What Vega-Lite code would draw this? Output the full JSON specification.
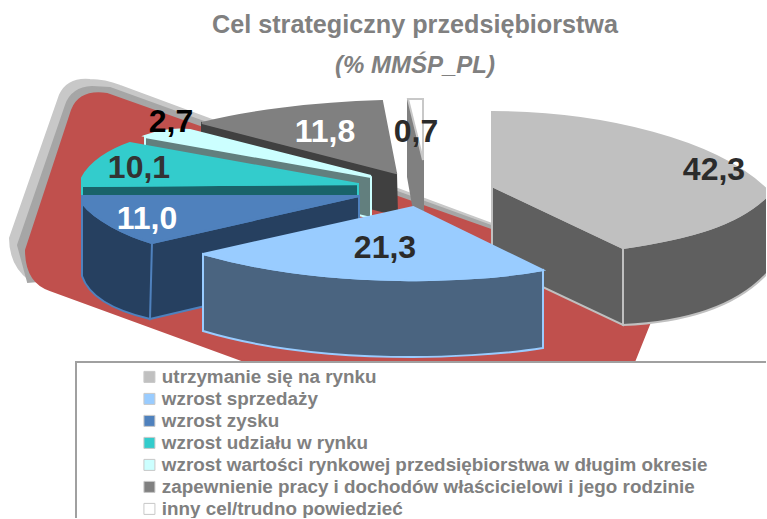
{
"$schema":"https://vega.github.io/schema/vega-lite/v6.json",
"width":766,"height":518,"autosize":{"type":"none"},"padding":0,"background":"white",
"config":{"view":{"stroke":null}},
"title":{"text":"Cel strategiczny przedsiębiorstwa","subtitle":"(% MMŚP_PL)","font":"Liberation Sans","fontSize":25.2,"fontWeight":"bold","color":"#808080","subtitleFont":"Liberation Sans","subtitleFontSize":24,"subtitleFontWeight":"bold","subtitleFontStyle":"italic","subtitleColor":"#808080","subtitlePadding":16,"anchor":"middle","dx":32,"offset":-78},
"datasets":{"kolowy":[
{"cel":"zapewnienie pracy i dochodów właścicielowi i jego rodzinie","udzial":11.8,"etykieta":"11,8"},
{"cel":"inny cel/trudno powiedzieć","udzial":0.7,"etykieta":"0,7"},
{"cel":"wzrost wartości rynkowej przedsiębiorstwa w długim okresie","udzial":2.7,"etykieta":"2,7"},
{"cel":"wzrost udziału w rynku","udzial":10.1,"etykieta":"10,1"},
{"cel":"wzrost zysku","udzial":11.0,"etykieta":"11,0"},
{"cel":"utrzymanie się na rynku","udzial":42.3,"etykieta":"42,3"},
{"cel":"wzrost sprzedaży","udzial":21.3,"etykieta":"21,3"}
],"tlo":[{"czesc":"a"},{"czesc":"b"},{"czesc":"c"},{"czesc":"d"}]},
"layer":[
{"data":{"name":"tlo"},"mark":{"type":"point","filled":true,"size":4,"opacity":1},
"encoding":{
"shape":{"field":"czesc","type":"nominal","legend":null,"scale":{"domain":["a","b","c","d"],"range":[
"M-373 -21 L-323 -164 Q-315 -181 -293 -179 Q-278 -179 -263 -173 L112 -34 L108 -19 L-353 21 Q-373 6 -373 -21 Z",
"M-365 -14 L-317 -154 Q-311 -171 -291 -172 L-273 -171 L108 -33 L108 -19 L-355 23 Z",
"M-357 -9 L-311 -149 Q-303 -169 -276 -165 L108 -29 L267 31 L267 63 L251 103 L-136 103 L-333 31 Q-357 23 -357 -9 Z",
"M-307 103 L417 103 L417 271 L-307 271 Z"]}},
"color":{"field":"czesc","type":"nominal","legend":null,"scale":{"domain":["a","b","c","d"],"range":["#c8c8c8","#a6a6a6","#c0504d","#ffffff"]}},
"stroke":{"field":"czesc","type":"nominal","legend":null,"scale":{"domain":["a","b","c","d"],"range":["#c8c8c8","#a6a6a6","#c0504d","#a0a0a0"]}}
}},
{"data":{"name":"kolowy"},"mark":{"type":"point","filled":true,"size":4,"opacity":1},
"encoding":{
"shape":{"field":"cel","type":"nominal","legend":null,"scale":{"domain":["utrzymanie się na rynku","wzrost sprzedaży","wzrost zysku","wzrost udziału w rynku","wzrost wartości rynkowej przedsiębiorstwa w długim okresie","zapewnienie pracy i dochodów właścicielowi i jego rodzinie","inny cel/trudno powiedzieć"],"range":[
"M109 -73 L240 -11 L240 66 L109 4 Z M240 -11 C307 -21 357 -34 387 -66 L387 11 C357 46 307 63 240 66 Z",
"M-180 -5 C-123 11 -53 20 17 21 C57 22 117 19 160 11 L160 89 C117 96 57 98 30 98 C-53 98 -123 89 -180 72 Z",
"M-231 -16 L-24 -63 L-24 11 L-233 60 Z M-301 -56 C-288 -39 -258 -24 -231 -16 L-233 60 C-263 53 -293 41 -301 17 Z",
"M-301 -73 L-25 -75 L-25 -9 L-301 3 Z",
"M-238 -122 L-12 -82 L-12 -41 L-238 -94 Z",
"M-181 -136 L13 -86 L14 -44 L-181 -94 Z",
"M25 -160 L40 -99 L40 -49 L30 -54 L25 -82 Z"]}},
"color":{"field":"cel","type":"nominal","legend":null,"scale":{"domain":["utrzymanie się na rynku","wzrost sprzedaży","wzrost zysku","wzrost udziału w rynku","wzrost wartości rynkowej przedsiębiorstwa w długim okresie","zapewnienie pracy i dochodów właścicielowi i jego rodzinie","inny cel/trudno powiedzieć"],"range":["#5f5f5f","#4a6480","#264060","#19636a","#627f7e","#404040","#808080"]}},
"stroke":{"field":"cel","type":"nominal","legend":null,"scale":{"domain":["utrzymanie się na rynku","wzrost sprzedaży","wzrost zysku","wzrost udziału w rynku","wzrost wartości rynkowej przedsiębiorstwa w długim okresie","zapewnienie pracy i dochodów właścicielowi i jego rodzinie","inny cel/trudno powiedzieć"],"range":["#c0c0c0","#99ccff","#4f81bd","#33cccc","#ccffff","#404040","#808080"]}}
}},
{"data":{"name":"kolowy"},"mark":{"type":"point","filled":true,"size":4,"opacity":1},
"encoding":{
"shape":{"field":"cel","type":"nominal","legend":null,"scale":{"domain":["utrzymanie się na rynku","wzrost sprzedaży","wzrost zysku","wzrost udziału w rynku","wzrost wartości rynkowej przedsiębiorstwa w długim okresie","zapewnienie pracy i dochodów właścicielowi i jego rodzinie","inny cel/trudno powiedzieć"],"range":[
"M109 -147 C217 -147 337 -119 387 -66 C357 -34 307 -21 240 -11 L109 -73 Z",
"M30 -52 L160 11 C117 19 57 22 17 21 C-53 20 -123 11 -180 -5 Z",
"M-24 -63 L-301 -63 L-301 -56 C-288 -39 -258 -24 -231 -16 Z",
"M-25 -75 L-253 -116 C-273 -109 -293 -97 -301 -81 L-301 -73 Z",
"M-12 -83 L-238 -123 C-225 -128 -211 -131 -193 -129 Z",
"M13 -86 L-181 -136 C-138 -147 -73 -156 -1 -158 Z",
"M25 -160 L40 -160 L40 -99 Z"]}},
"color":{"field":"cel","type":"nominal","legend":null,"scale":{"domain":["utrzymanie się na rynku","wzrost sprzedaży","wzrost zysku","wzrost udziału w rynku","wzrost wartości rynkowej przedsiębiorstwa w długim okresie","zapewnienie pracy i dochodów właścicielowi i jego rodzinie","inny cel/trudno powiedzieć"],"range":["#c0c0c0","#99ccff","#4f81bd","#33cccc","#ccffff","#808080","#ffffff"]}},
"stroke":{"field":"cel","type":"nominal","legend":null,"scale":{"domain":["utrzymanie się na rynku","wzrost sprzedaży","wzrost zysku","wzrost udziału w rynku","wzrost wartości rynkowej przedsiębiorstwa w długim okresie","zapewnienie pracy i dochodów właścicielowi i jego rodzinie","inny cel/trudno powiedzieć"],"range":["#c0c0c0","#99ccff","#4f81bd","#33cccc","#ccffff","#808080","#c8c8c8"]}}
}},
{"data":{"name":"kolowy"},"mark":{"type":"point","filled":true,"size":0,"opacity":1,"stroke":"#c8c8c8","strokeWidth":1},
"encoding":{
"color":{"field":"cel","type":"nominal","scale":{"domain":["utrzymanie się na rynku","wzrost sprzedaży","wzrost zysku","wzrost udziału w rynku","wzrost wartości rynkowej przedsiębiorstwa w długim okresie","zapewnienie pracy i dochodów właścicielowi i jego rodzinie","inny cel/trudno powiedzieć"],"range":["#c0c0c0","#99ccff","#4f81bd","#33cccc","#ccffff","#808080","#ffffff"]},
"legend":{"title":null,"orient":"none","legendX":140,"legendY":366,"symbolType":"square","symbolSize":121,"symbolStrokeColor":"#c8c8c8","symbolStrokeWidth":1,"labelFont":"Liberation Sans","labelFontWeight":"bold","labelFontSize":18.85,"labelColor":"#808080","labelOffset":3,"labelLimit":700,"rowPadding":0,"clipHeight":21.8}}
}},
{"data":{"name":"kolowy"},"mark":{"type":"text","font":"Liberation Sans","fontWeight":"bold","fontSize":32,"align":"center","baseline":"middle",
"dx":{"expr":"{'42,3':331,'21,3':2,'11,0':-236,'10,1':-244,'2,7':-212,'11,8':-58,'0,7':33}[datum.etykieta]"},
"dy":{"expr":"{'42,3':-89,'21,3':-11,'11,0':-40,'10,1':-91,'2,7':-137,'11,8':-127,'0,7':-127}[datum.etykieta]"}},
"encoding":{"text":{"field":"etykieta","type":"nominal"},
"color":{"field":"etykieta","type":"nominal","legend":null,"scale":{"domain":["42,3","21,3","11,0","10,1","2,7","11,8","0,7"],"range":["#2b2b2b","#2b2b2b","#ffffff","#333333","#000000","#ffffff","#2b2b2b"]}}}}
],
"resolve":{"scale":{"color":"independent","shape":"independent","stroke":"independent"},"legend":{"color":"independent","stroke":"independent"}}
}
